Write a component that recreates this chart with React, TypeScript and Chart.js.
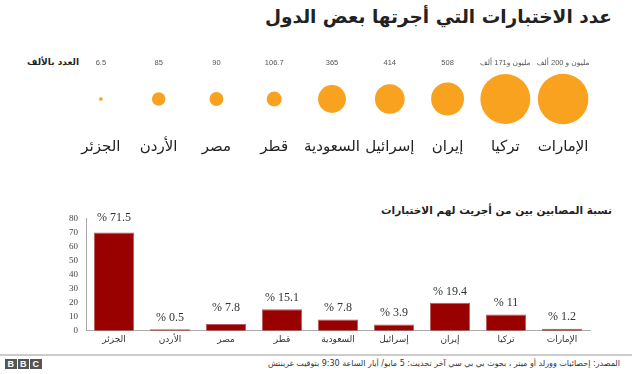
import React, { useEffect, useRef } from "react";
import { Chart, registerables } from "chart.js";

Chart.register(...registerables);

// ---- data (left to right as in the picture) ----
const countries = ["الجزئر", "الأردن", "مصر", "قطر", "السعودية", "إسرائيل", "إيران", "تركيا", "الإمارات"];
const testsThousands = [6.5, 85, 90, 106.7, 365, 414, 508, 1171, 1200];
const testsLabels = ["6.5", "85", "90", "106.7", "365", "414", "508", "مليون و171 ألف", "مليون و 200 ألف"];
const positiveBarValues = [70, 1, 4.7, 15.2, 8, 4.5, 19.9, 11.5, 1.4];
const positiveLabelValues = [71.5, 0.5, 7.8, 15.1, 7.8, 3.9, 19.4, 11, 1.2];
const yMin = 0;
const yMax = 80;
const yStep = 10;

const TITLE = "عدد الاختبارات التي أجرتها بعض الدول";
const SUBTITLE = "نسبة المصابين بين من أجريت لهم الاختبارات";
const UNIT_LABEL = "العدد بالألف";
const SOURCE = "المصدر: إحصائيات وورلد أو ميتر ، بحوث بي بي سي  آخر تحديث: 5 مايو/ أيار  الساعة 9:30 بتوقيت غرينتش";

const ORANGE = "#f8a21f";
const RED = "#990000";
const ARABIC = "'DejaVu Sans', sans-serif";
const SMALL = "'Liberation Sans', 'DejaVu Sans', sans-serif";
const SERIF = "'Liberation Serif', 'DejaVu Serif', serif";
const BUBBLE_K = 0.73;

const radii = testsThousands.map((v) => BUBBLE_K * Math.sqrt(v));
const maxR = Math.ceil(Math.max(...radii)) + 1;
const BUBBLE_LEFT = 72;
const BUBBLE_W = 520;

export default function App() {
  const bubbleRef = useRef<HTMLCanvasElement | null>(null);
  const barRef = useRef<HTMLCanvasElement | null>(null);

  useEffect(() => {
    const bubbleLabels = {
      id: "bubbleLabels",
      afterDatasetsDraw(chart: any) {
        const ctx = chart.ctx;
        const meta = chart.getDatasetMeta(0);
        ctx.save();
        ctx.textAlign = "center";
        ctx.textBaseline = "middle";
        ctx.direction = "rtl";
        meta.data.forEach((el: any, i: number) => {
          ctx.fillStyle = "#555";
          ctx.font = `7.5px ${SMALL}`;
          ctx.fillText(testsLabels[i], el.x, el.y - 36.3);
          ctx.fillStyle = "#222";
          ctx.font = `15px ${ARABIC}`;
          ctx.fillText(countries[i], el.x, el.y + 48);
        });
        ctx.restore();
      },
    };

    const bubble = new Chart(bubbleRef.current as HTMLCanvasElement, {
      type: "bubble",
      data: {
        labels: countries,
        datasets: [
          {
            data: radii.map((r, i) => ({ x: i, y: 0, r })),
            backgroundColor: ORANGE,
            borderColor: ORANGE,
            borderWidth: 0,
            clip: false as any,
          },
        ],
      },
      options: {
        animation: false,
        responsive: false,
        events: [],
        layout: { padding: maxR },
        plugins: { legend: { display: false }, tooltip: { enabled: false } },
        scales: {
          x: { type: "category", offset: true, display: false },
          y: { type: "linear", min: -1, max: 1, display: false },
        },
      },
      plugins: [bubbleLabels],
    });

    const barLabels = {
      id: "barLabels",
      afterDatasetsDraw(chart: any) {
        const ctx = chart.ctx;
        const meta = chart.getDatasetMeta(0);
        const yScale = chart.scales.y;
        ctx.save();
        ctx.textAlign = "center";
        ctx.textBaseline = "middle";
        ctx.fillStyle = "#333";
        ctx.font = `12px ${SERIF}`;
        meta.data.forEach((el: any, i: number) => {
          ctx.fillText("% " + positiveLabelValues[i], el.x, yScale.getPixelForValue(positiveLabelValues[i]) - 12);
        });
        ctx.restore();
      },
    };

    const bar = new Chart(barRef.current as HTMLCanvasElement, {
      type: "bar",
      data: {
        labels: countries,
        datasets: [
          {
            data: positiveBarValues,
            backgroundColor: RED,
            borderColor: "#b85a5a",
            borderWidth: 1,
            categoryPercentage: 1,
            barPercentage: 0.72,
          },
        ],
      },
      options: {
        animation: false,
        responsive: false,
        events: [],
        layout: { padding: { top: 12.7, right: 50, left: 0, bottom: 0 } },
        plugins: { legend: { display: false }, tooltip: { enabled: false } },
        scales: {
          x: {
            grid: { display: false, drawTicks: false },
            border: { display: true, color: "#aaa" },
            ticks: { font: { size: 9, family: ARABIC }, color: "#333", padding: 4 },
            afterFit: (s: any) => {
              s.height = 19.3;
            },
          },
          y: {
            min: yMin,
            max: yMax,
            grid: { display: false, drawTicks: false },
            border: { display: true, color: "#aaa" },
            ticks: { stepSize: yStep, font: { size: 9, family: SERIF }, color: "#444", padding: 8 },
            afterFit: (s: any) => {
              s.width = 86;
            },
          },
        },
      },
      plugins: [barLabels],
    });

    return () => {
      bubble.destroy();
      bar.destroy();
    };
  }, []);

  const bbcBox = (left: number, letter: string) => (
    <div
      style={{
        position: "absolute",
        left,
        top: 359,
        width: 11.5,
        height: 10,
        background: "#555",
        color: "#fff",
        fontFamily: SMALL,
        fontWeight: "bold",
        fontSize: 9,
        lineHeight: "10px",
        textAlign: "center",
      }}
    >
      {letter}
    </div>
  );

  const bubbleCanvasW = BUBBLE_W + 2 * maxR;
  const bubbleCanvasH = 142 + 2 * maxR;

  return (
    <div style={{ position: "absolute", left: 0, top: 0, width: 640, height: 374, background: "#fff", overflow: "hidden" }}>
      <div
        style={{
          position: "absolute",
          right: 28,
          top: 2,
          fontFamily: ARABIC,
          fontWeight: "bold",
          fontSize: 18.5,
          lineHeight: "30px",
          color: "#222",
          direction: "rtl",
          whiteSpace: "nowrap",
        }}
      >
        {TITLE}
      </div>
      <div
        style={{
          position: "absolute",
          left: 27,
          top: 56,
          fontFamily: ARABIC,
          fontWeight: "bold",
          fontSize: 9,
          lineHeight: "12px",
          color: "#222",
          direction: "rtl",
          whiteSpace: "nowrap",
        }}
      >
        {UNIT_LABEL}
      </div>
      <canvas
        ref={bubbleRef}
        width={bubbleCanvasW}
        height={bubbleCanvasH}
        style={{ position: "absolute", left: BUBBLE_LEFT - maxR, top: 28 - maxR, width: bubbleCanvasW, height: bubbleCanvasH }}
      />
      <div
        style={{
          position: "absolute",
          right: 28,
          top: 200,
          fontFamily: ARABIC,
          fontWeight: "bold",
          fontSize: 10.5,
          lineHeight: "20px",
          color: "#222",
          direction: "rtl",
          whiteSpace: "nowrap",
        }}
      >
        {SUBTITLE}
      </div>
      <canvas ref={barRef} width={640} height={145} style={{ position: "absolute", left: 0, top: 205, width: 640, height: 145 }} />
      <div style={{ position: "absolute", left: 0, top: 354, width: 632, height: 2, background: "#ccc" }} />
      {bbcBox(5, "B")}
      {bbcBox(17.5, "B")}
      {bbcBox(30, "C")}
      <div
        style={{
          position: "absolute",
          right: 20,
          top: 358,
          fontFamily: ARABIC,
          fontSize: 8,
          lineHeight: "12px",
          color: "#333",
          direction: "rtl",
          whiteSpace: "nowrap",
        }}
      >
        {SOURCE}
      </div>
    </div>
  );
}
